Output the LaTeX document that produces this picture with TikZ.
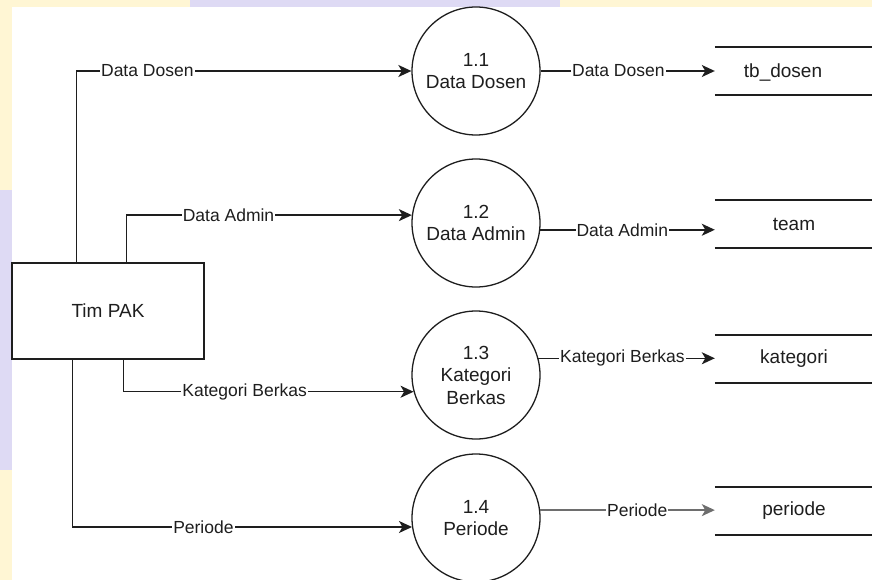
\documentclass[tikz,border=0pt]{standalone}
\usepackage{fontspec}
\setmainfont{Liberation Sans}
\usetikzlibrary{arrows.meta}
\definecolor{ink}{RGB}{30,30,30}
\definecolor{soft}{RGB}{110,110,110}
\definecolor{paleyellow}{RGB}{255,246,212}
\definecolor{palelilac}{RGB}{222,218,244}
\begin{document}
\begin{tikzpicture}[x=1pt,y=-1pt,
  proc/.style={circle, draw=ink, line width=1.3pt, minimum size=128pt, inner sep=0pt,
    align=center, text=ink, font=\fontsize{19}{22.5}\selectfont},
  entity/.style={rectangle, draw=ink, line width=1.4pt, minimum width=192pt,
    minimum height=96pt, text=ink, font=\fontsize{19}{22}\selectfont},
  store/.style={rectangle, minimum width=158pt, minimum height=48pt, inner sep=0pt,
    text=ink, font=\fontsize{19}{22}\selectfont},
  storeline/.style={draw=ink, line width=1.5pt},
  flow/.style={draw=ink, line width=1.5pt,
    -{Stealth[length=13pt,width=12pt,inset=3.5pt]}},
  lbl/.style={fill=white, inner sep=1pt, text=ink, font=\fontsize{17.5}{20}\selectfont}]

% page background and white drawing sheet
\fill[paleyellow] (0,0) rectangle (872,580);
\fill[palelilac] (190,0) rectangle (560,7);
\fill[palelilac] (0,190) rectangle (12,470);
\fill[white] (12,7) rectangle (872,580);
\useasboundingbox (0,0) rectangle (872,580);

% external entity
\node[entity] (tim) at (108,311) {Tim PAK};

% processes
\node[proc] (c1) at (476,71)  {1.1\\Data Dosen};
\node[proc] (c2) at (476,223) {1.2\\Data Admin};
\node[proc] (c3) at (476,375) {1.3\\Kategori\\Berkas};
\node[proc] (c4) at (476,518) {1.4\\Periode};

% data stores
\node[store] (s1) at (794,71)  {};
\node[store] (t1) at (783,73) {tb\_dosen};
\node[store] (s2) at (794,224) {team};
\node[store] (s3) at (794,359) {kategori};
\node[store] (s4) at (794,511) {periode};
\foreach \s in {s1,s2,s3,s4}{
  \draw[storeline] (\s.north west) -- (\s.north east);
  \draw[storeline] (\s.south west) -- (\s.south east);
}

% flows from the entity into the processes
\draw[flow] ([xshift=65pt]tim.north west) |- node[lbl,pos=0.606] (l1) {Data Dosen} (c1.west);
\draw[flow] ([xshift=115pt]tim.north west) |- node[lbl,pos=0.679] (l2) {Data Admin} (c2.173);
\draw[flow] ([xshift=112pt]tim.south west) |- node[lbl,pos=0.709] (l3) {Kategori Berkas} (c3.195);
\draw[flow] ([xshift=61pt]tim.south west) |- node[lbl,pos=0.693] (l4) {Periode} (c4.188);

% flows from the processes into the stores
\draw[flow] (c1.east) -- node[lbl,pos=0.446] (r1) {Data Dosen} (c1.east -| s1.west);
\draw[flow] (c2.354) -- node[lbl,pos=0.47] (r2) {Data Admin} (c2.354 -| s2.west);
\draw[flow] (c3.15) -- node[lbl,pos=0.476] (r3) {Kategori Berkas} (c3.15 -| s3.west);
\draw[flow, draw=soft] (c4.7) -- node[lbl,pos=0.556] (r4) {Periode} (c4.7 -| s4.west);
\end{tikzpicture}
\end{document}
